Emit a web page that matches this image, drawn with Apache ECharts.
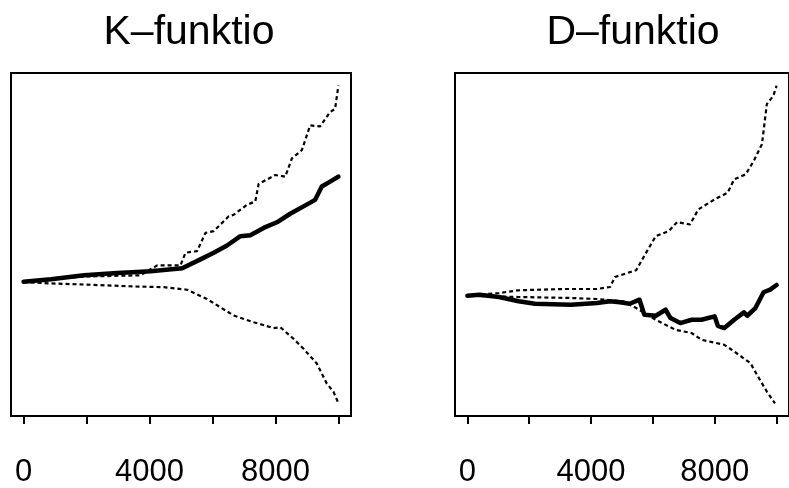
<!DOCTYPE html>
<html><head><meta charset="utf-8">
<script src="https://cdn.jsdelivr.net/npm/echarts@6/dist/echarts.min.js"></script>
<style>html,body{margin:0;padding:0;background:#fff}#c{width:789px;height:488px}</style>
</head><body><div id="c"></div>
<script>
// ---- data ----
var titles = ['K\u2013funktio', 'D\u2013funktio'];
var tickValues = [0, 2000, 4000, 6000, 8000, 10000];
var tickLabels = [0, 4000, 8000];

// K-function: observed
var kObsX = [0, 866, 1922, 2978, 4034, 5037, 5618, 6040, 6463, 6885, 7202, 7624, 8047, 8469, 8891, 9261, 9472, 9683, 10000];
var kObsY = [135.7, 138.3, 142.3, 144.7, 146.3, 149.3, 158.3, 165, 172.3, 181.7, 182.7, 190, 195.7, 204.3, 211.7, 218.3, 231.7, 235.7, 241.7];
// K-function: upper envelope
var kHiX = [0, 655, 1922, 3717, 4245, 4984, 5143, 5512, 5776, 6040, 6515, 6674, 7096, 7360, 7466, 7994, 8311, 8522, 8838, 9102, 9419, 9736, 9894, 10000];
var kHiY = [135.7, 138, 141, 142.3, 152.3, 152.3, 165, 166.7, 185, 186.7, 201.7, 203.3, 213.3, 216.7, 234.3, 243.3, 241.7, 260, 268.3, 293.3, 292.3, 306.7, 310, 333.3];
// K-function: lower envelope
var kLoX = [0, 655, 1922, 3506, 4456, 5195, 5829, 6674, 7307, 7941, 8152, 8574, 8891, 9314, 9630, 9842, 10000];
var kLoY = [135.7, 134.3, 133, 131, 130.3, 127.7, 118.3, 101.7, 95, 89, 90, 78.3, 68.3, 53.3, 33.3, 25, 13.3];

// D-function: observed
var dObsX = [0, 391, 1024, 1658, 2186, 3347, 4192, 4615, 4931, 5248, 5565, 5723, 6093, 6410, 6569, 6885, 7255, 7571, 7994, 8099, 8310, 8627, 8944, 9050, 9314, 9578, 9789, 10000];
var dObsY = [122.3, 123.3, 121, 116.7, 114.3, 113.3, 115, 116.7, 115.7, 114.3, 118.3, 103.3, 102.3, 108.3, 100, 95, 98.3, 98.3, 101.7, 92.3, 90, 98.3, 105.7, 102.3, 110, 125.7, 128.3, 133];
// D-function: upper envelope
var dHiX = [0, 1024, 1658, 3136, 4192, 4615, 4773, 5459, 5776, 6093, 6515, 6780, 7202, 7466, 7994, 8416, 8627, 8997, 9261, 9525, 9683, 9894, 10000];
var dHiY = [122.3, 125, 127.7, 129, 129, 131, 141, 147.7, 165, 181.7, 186.7, 195.7, 193.3, 208.3, 218.3, 225, 238.3, 243.3, 256.7, 273.3, 313.3, 321.7, 331.7];
// D-function: lower envelope
var dLoX = [0, 1658, 3347, 4192, 5037, 5459, 6093, 6727, 7255, 7571, 8310, 8627, 9155, 9366, 9683, 9947];
var dLoY = [122.3, 121, 120, 119, 116.7, 110, 98.3, 88.3, 85, 78.3, 73.3, 66.7, 55, 43.3, 26.7, 15];

// ---- build ----
function zip(xs, ys) { return xs.map(function (x, i) { return [x, ys[i]]; }); }
function padRange(arrs) {
  var lo = Infinity, hi = -Infinity;
  arrs.forEach(function (a) { a.forEach(function (v) { lo = Math.min(lo, v); hi = Math.max(hi, v); }); });
  var p = (hi - lo) * 0.04;
  return [lo - p, hi + p];
}
var xr = padRange([[0, 10000]]);
var kr = padRange([kObsY, kHiY, kLoY]);
var dr = padRange([dObsY, dHiY, dLoY]);

var FONT = '"Liberation Sans", Arial, sans-serif';
function xAxis(idx) {
  return {
    type: 'value', gridIndex: idx, min: xr[0], max: xr[1],
    splitLine: { show: false },
    axisLine: { show: false },
    axisTick: { show: true, inside: false, length: 8, lineStyle: { color: '#000', width: 2 }, customValues: tickValues },
    axisLabel: { show: true, margin: 41, customValues: tickLabels, color: '#000', fontSize: 31, fontFamily: FONT, lineHeight: 31,
      formatter: function (v) { return String(v); } }
  };
}
function yAxis(idx, r) {
  return { type: 'value', gridIndex: idx, min: r[0], max: r[1], show: false, splitLine: { show: false } };
}
function solid(idx, data) {
  return { type: 'line', xAxisIndex: idx, yAxisIndex: idx, data: data, showSymbol: false, symbol: 'none',
    lineStyle: { color: '#000', width: 4.5, cap: 'round', join: 'round' }, animation: false, z: 3 };
}
function dashed(idx, data) {
  return { type: 'line', xAxisIndex: idx, yAxisIndex: idx, data: data, showSymbol: false, symbol: 'none',
    lineStyle: { color: '#000', width: 2.2, type: [4, 3] }, animation: false, z: 2 };
}

var chart = echarts.init(document.getElementById('c'), null, { renderer: 'canvas' });
chart.setOption({
  backgroundColor: '#fff',
  animation: false,
  title: [
    { text: titles[0], left: 184, top: 7, textAlign: 'center', textStyle: { fontSize: 41, fontWeight: 'normal', color: '#000', fontFamily: FONT, lineHeight: 41 } },
    { text: titles[1], left: 628, top: 7, textAlign: 'center', textStyle: { fontSize: 41, fontWeight: 'normal', color: '#000', fontFamily: FONT, lineHeight: 41 } }
  ],
  grid: [
    { left: 11, top: 73, width: 340, height: 345, show: true, borderColor: '#000', borderWidth: 2, backgroundColor: 'transparent' },
    { left: 455, top: 73, width: 341, height: 345, show: true, borderColor: '#000', borderWidth: 2, backgroundColor: 'transparent' }
  ],
  xAxis: [xAxis(0), xAxis(1)],
  yAxis: [yAxis(0, kr), yAxis(1, dr)],
  series: [
    solid(0, zip(kObsX, kObsY)), dashed(0, zip(kHiX, kHiY)), dashed(0, zip(kLoX, kLoY)),
    solid(1, zip(dObsX, dObsY)), dashed(1, zip(dHiX, dHiY)), dashed(1, zip(dLoX, dLoY))
  ]
});
</script></body></html>
